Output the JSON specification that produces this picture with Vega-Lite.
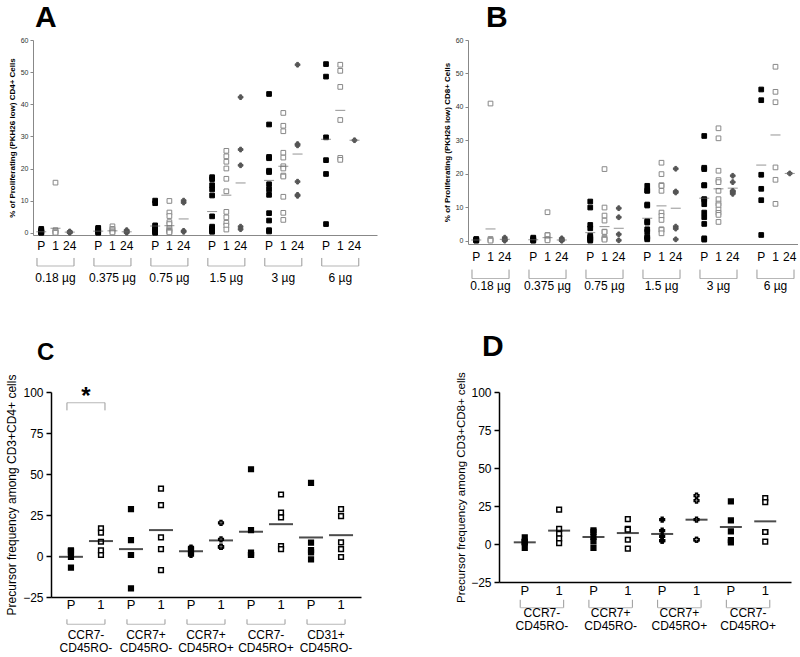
{
"$schema": "https://vega.github.io/schema/vega-lite/v6.json",
"background": "white",
"padding": {"left": 5, "top": 3, "right": 0, "bottom": 0},
"datasets": {
"A_pts": [
{"k":"0.18|P","c":"P","v":1.2},{"k":"0.18|P","c":"P","v":0.8},{"k":"0.18|P","c":"P","v":0.5},{"k":"0.18|P","c":"P","v":0.3},{"k":"0.18|P","c":"P","v":0.1},{"k":"0.18|P","c":"P","v":0},{"k":"0.18|P","c":"P","v":0.2},
{"k":"0.18|1","c":"1","v":15.6},{"k":"0.18|1","c":"1","v":0.8},{"k":"0.18|1","c":"1","v":0.4},{"k":"0.18|1","c":"1","v":0.1},{"k":"0.18|1","c":"1","v":0},
{"k":"0.18|24","c":"24","v":0.4},{"k":"0.18|24","c":"24","v":0.2},{"k":"0.18|24","c":"24","v":0.1},{"k":"0.18|24","c":"24","v":0},
{"k":"0.375|P","c":"P","v":1.5},{"k":"0.375|P","c":"P","v":1.3},{"k":"0.375|P","c":"P","v":0.8},{"k":"0.375|P","c":"P","v":0.5},{"k":"0.375|P","c":"P","v":0.2},{"k":"0.375|P","c":"P","v":0},
{"k":"0.375|1","c":"1","v":2.0},{"k":"0.375|1","c":"1","v":1.2},{"k":"0.375|1","c":"1","v":0.8},{"k":"0.375|1","c":"1","v":0.4},{"k":"0.375|1","c":"1","v":0.1},
{"k":"0.375|24","c":"24","v":0.8},{"k":"0.375|24","c":"24","v":0.5},{"k":"0.375|24","c":"24","v":0.2},{"k":"0.375|24","c":"24","v":0},
{"k":"0.75|P","c":"P","v":10.0},{"k":"0.75|P","c":"P","v":9.2},{"k":"0.75|P","c":"P","v":2.3},{"k":"0.75|P","c":"P","v":1.8},{"k":"0.75|P","c":"P","v":1.0},{"k":"0.75|P","c":"P","v":0.6},{"k":"0.75|P","c":"P","v":0.3},{"k":"0.75|P","c":"P","v":0},
{"k":"0.75|1","c":"1","v":9.9},{"k":"0.75|1","c":"1","v":6.3},{"k":"0.75|1","c":"1","v":5.2},{"k":"0.75|1","c":"1","v":3.3},{"k":"0.75|1","c":"1","v":2.7},{"k":"0.75|1","c":"1","v":1.4},{"k":"0.75|1","c":"1","v":1.0},{"k":"0.75|1","c":"1","v":0.6},{"k":"0.75|1","c":"1","v":0.3},{"k":"0.75|1","c":"1","v":0.1},
{"k":"0.75|24","c":"24","v":10.0},{"k":"0.75|24","c":"24","v":9.4},{"k":"0.75|24","c":"24","v":0.6},{"k":"0.75|24","c":"24","v":0.3},
{"k":"1.5|P","c":"P","v":17.3},{"k":"1.5|P","c":"P","v":16.7},{"k":"1.5|P","c":"P","v":14.8},{"k":"1.5|P","c":"P","v":13.5},{"k":"1.5|P","c":"P","v":11.6},{"k":"1.5|P","c":"P","v":5.1},{"k":"1.5|P","c":"P","v":1.9},{"k":"1.5|P","c":"P","v":1.4},{"k":"1.5|P","c":"P","v":1.0},{"k":"1.5|P","c":"P","v":0.6},{"k":"1.5|P","c":"P","v":0.3},
{"k":"1.5|1","c":"1","v":25.5},{"k":"1.5|1","c":"1","v":23.8},{"k":"1.5|1","c":"1","v":22.1},{"k":"1.5|1","c":"1","v":20.0},{"k":"1.5|1","c":"1","v":16.8},{"k":"1.5|1","c":"1","v":12.9},{"k":"1.5|1","c":"1","v":6.5},{"k":"1.5|1","c":"1","v":4.8},{"k":"1.5|1","c":"1","v":3.1},{"k":"1.5|1","c":"1","v":2.2},{"k":"1.5|1","c":"1","v":1.0},
{"k":"1.5|24","c":"24","v":42.2},{"k":"1.5|24","c":"24","v":25.9},{"k":"1.5|24","c":"24","v":21.0},{"k":"1.5|24","c":"24","v":1.9},{"k":"1.5|24","c":"24","v":1.1},
{"k":"3|P","c":"P","v":43.2},{"k":"3|P","c":"P","v":33.7},{"k":"3|P","c":"P","v":23.6},{"k":"3|P","c":"P","v":23.2},{"k":"3|P","c":"P","v":19.3},{"k":"3|P","c":"P","v":18.9},{"k":"3|P","c":"P","v":15.1},{"k":"3|P","c":"P","v":13.5},{"k":"3|P","c":"P","v":11.8},{"k":"3|P","c":"P","v":6.1},{"k":"3|P","c":"P","v":3.8},{"k":"3|P","c":"P","v":0.8},{"k":"3|P","c":"P","v":0.4},
{"k":"3|1","c":"1","v":37.3},{"k":"3|1","c":"1","v":33.3},{"k":"3|1","c":"1","v":31.6},{"k":"3|1","c":"1","v":24.9},{"k":"3|1","c":"1","v":23.4},{"k":"3|1","c":"1","v":20.7},{"k":"3|1","c":"1","v":20.0},{"k":"3|1","c":"1","v":17.8},{"k":"3|1","c":"1","v":17.5},{"k":"3|1","c":"1","v":11.2},{"k":"3|1","c":"1","v":6.2},{"k":"3|1","c":"1","v":4.0},
{"k":"3|24","c":"24","v":52.3},{"k":"3|24","c":"24","v":27.6},{"k":"3|24","c":"24","v":27.2},{"k":"3|24","c":"24","v":15.9},{"k":"3|24","c":"24","v":11.8},{"k":"3|24","c":"24","v":11.5},
{"k":"6|P","c":"P","v":52.5},{"k":"6|P","c":"P","v":48.6},{"k":"6|P","c":"P","v":29.7},{"k":"6|P","c":"P","v":22.6},{"k":"6|P","c":"P","v":18.3},{"k":"6|P","c":"P","v":2.7},
{"k":"6|1","c":"1","v":52.3},{"k":"6|1","c":"1","v":50.4},{"k":"6|1","c":"1","v":45.4},{"k":"6|1","c":"1","v":35.1},{"k":"6|1","c":"1","v":23.3},{"k":"6|1","c":"1","v":22.7},
{"k":"6|24","c":"24","v":28.8}
],
"A_mean": [
{"k":"0.18|P","m":0.3},{"k":"0.18|1","m":1.4},{"k":"0.18|24","m":0.2},
{"k":"0.375|P","m":0.5},{"k":"0.375|1","m":0.6},{"k":"0.375|24","m":0.3},
{"k":"0.75|P","m":2.1},{"k":"0.75|1","m":2.2},{"k":"0.75|24","m":4.3},
{"k":"1.5|P","m":6.6},{"k":"1.5|1","m":11.7},{"k":"1.5|24","m":15.5},
{"k":"3|P","m":16.3},{"k":"3|1","m":20.7},{"k":"3|24","m":24.5},
{"k":"6|P","m":29.1},{"k":"6|1","m":38.1},{"k":"6|24","m":28.8}
],
"AB_groups": [
{"k":"0.18|1","kp":"0.18|P","kz":"0.18|24","label":"0.18 µg"},
{"k":"0.375|1","kp":"0.375|P","kz":"0.375|24","label":"0.375 µg"},
{"k":"0.75|1","kp":"0.75|P","kz":"0.75|24","label":"0.75 µg"},
{"k":"1.5|1","kp":"1.5|P","kz":"1.5|24","label":"1.5 µg"},
{"k":"3|1","kp":"3|P","kz":"3|24","label":"3 µg"},
{"k":"6|1","kp":"6|P","kz":"6|24","label":"6 µg"}
],
"B_pts": [
{"k":"0.18|P","c":"P","v":0.5},{"k":"0.18|P","c":"P","v":0.3},{"k":"0.18|P","c":"P","v":0.1},{"k":"0.18|P","c":"P","v":0},{"k":"0.18|P","c":"P","v":0.2},
{"k":"0.18|1","c":"1","v":41.0},{"k":"0.18|1","c":"1","v":0.5},{"k":"0.18|1","c":"1","v":0.2},{"k":"0.18|1","c":"1","v":0},
{"k":"0.18|24","c":"24","v":0.9},{"k":"0.18|24","c":"24","v":0.4},{"k":"0.18|24","c":"24","v":0.2},{"k":"0.18|24","c":"24","v":0},
{"k":"0.375|P","c":"P","v":0.9},{"k":"0.375|P","c":"P","v":0.6},{"k":"0.375|P","c":"P","v":0.3},{"k":"0.375|P","c":"P","v":0.1},{"k":"0.375|P","c":"P","v":0},
{"k":"0.375|1","c":"1","v":8.5},{"k":"0.375|1","c":"1","v":1.7},{"k":"0.375|1","c":"1","v":1.6},{"k":"0.375|1","c":"1","v":0.5},{"k":"0.375|1","c":"1","v":0.1},
{"k":"0.375|24","c":"24","v":0.7},{"k":"0.375|24","c":"24","v":0.3},{"k":"0.375|24","c":"24","v":0.1},{"k":"0.375|24","c":"24","v":0},
{"k":"0.75|P","c":"P","v":11.7},{"k":"0.75|P","c":"P","v":9.9},{"k":"0.75|P","c":"P","v":4.7},{"k":"0.75|P","c":"P","v":3.7},{"k":"0.75|P","c":"P","v":1.5},{"k":"0.75|P","c":"P","v":1.0},{"k":"0.75|P","c":"P","v":0.6},{"k":"0.75|P","c":"P","v":0.3},{"k":"0.75|P","c":"P","v":0},
{"k":"0.75|1","c":"1","v":21.4},{"k":"0.75|1","c":"1","v":9.9},{"k":"0.75|1","c":"1","v":7.5},{"k":"0.75|1","c":"1","v":6.0},{"k":"0.75|1","c":"1","v":2.7},{"k":"0.75|1","c":"1","v":2.6},{"k":"0.75|1","c":"1","v":0.9},{"k":"0.75|1","c":"1","v":0.5},{"k":"0.75|1","c":"1","v":0.3},
{"k":"0.75|24","c":"24","v":9.7},{"k":"0.75|24","c":"24","v":7.0},{"k":"0.75|24","c":"24","v":1.9},{"k":"0.75|24","c":"24","v":0.1},
{"k":"1.5|P","c":"P","v":16.4},{"k":"1.5|P","c":"P","v":15.0},{"k":"1.5|P","c":"P","v":14.9},{"k":"1.5|P","c":"P","v":10.8},{"k":"1.5|P","c":"P","v":10.5},{"k":"1.5|P","c":"P","v":5.8},{"k":"1.5|P","c":"P","v":5.4},{"k":"1.5|P","c":"P","v":3.4},{"k":"1.5|P","c":"P","v":2.7},{"k":"1.5|P","c":"P","v":1.2},{"k":"1.5|P","c":"P","v":0.8},{"k":"1.5|P","c":"P","v":0.4},
{"k":"1.5|1","c":"1","v":23.3},{"k":"1.5|1","c":"1","v":19.9},{"k":"1.5|1","c":"1","v":16.6},{"k":"1.5|1","c":"1","v":16.4},{"k":"1.5|1","c":"1","v":14.9},{"k":"1.5|1","c":"1","v":8.4},{"k":"1.5|1","c":"1","v":7.4},{"k":"1.5|1","c":"1","v":6.2},{"k":"1.5|1","c":"1","v":3.4},{"k":"1.5|1","c":"1","v":3.2},{"k":"1.5|1","c":"1","v":2.2},
{"k":"1.5|24","c":"24","v":21.5},{"k":"1.5|24","c":"24","v":14.7},{"k":"1.5|24","c":"24","v":14.4},{"k":"1.5|24","c":"24","v":4.2},{"k":"1.5|24","c":"24","v":3.6},{"k":"1.5|24","c":"24","v":0.4},
{"k":"3|P","c":"P","v":31.3},{"k":"3|P","c":"P","v":21.8},{"k":"3|P","c":"P","v":21.4},{"k":"3|P","c":"P","v":16.6},{"k":"3|P","c":"P","v":16.5},{"k":"3|P","c":"P","v":12.4},{"k":"3|P","c":"P","v":12.3},{"k":"3|P","c":"P","v":10.9},{"k":"3|P","c":"P","v":8.4},{"k":"3|P","c":"P","v":7.0},{"k":"3|P","c":"P","v":5.0},{"k":"3|P","c":"P","v":0.7},{"k":"3|P","c":"P","v":0.3},
{"k":"3|1","c":"1","v":33.6},{"k":"3|1","c":"1","v":30.6},{"k":"3|1","c":"1","v":20.9},{"k":"3|1","c":"1","v":18.1},{"k":"3|1","c":"1","v":17.5},{"k":"3|1","c":"1","v":14.9},{"k":"3|1","c":"1","v":12.4},{"k":"3|1","c":"1","v":11.1},{"k":"3|1","c":"1","v":10.6},{"k":"3|1","c":"1","v":9.3},{"k":"3|1","c":"1","v":8.3},{"k":"3|1","c":"1","v":7.7},{"k":"3|1","c":"1","v":5.6},
{"k":"3|24","c":"24","v":19.4},{"k":"3|24","c":"24","v":17.5},{"k":"3|24","c":"24","v":14.9},{"k":"3|24","c":"24","v":14.4},{"k":"3|24","c":"24","v":14.0},{"k":"3|24","c":"24","v":14.7},
{"k":"6|P","c":"P","v":45.2},{"k":"6|P","c":"P","v":42.0},{"k":"6|P","c":"P","v":19.7},{"k":"6|P","c":"P","v":15.5},{"k":"6|P","c":"P","v":12.1},{"k":"6|P","c":"P","v":1.7},
{"k":"6|1","c":"1","v":52.0},{"k":"6|1","c":"1","v":44.5},{"k":"6|1","c":"1","v":41.4},{"k":"6|1","c":"1","v":21.9},{"k":"6|1","c":"1","v":18.2},{"k":"6|1","c":"1","v":11.0},
{"k":"6|24","c":"24","v":20.1}
],
"B_mean": [
{"k":"0.18|P","m":0.2},{"k":"0.18|1","m":3.5},{"k":"0.18|24","m":0.4},
{"k":"0.375|P","m":0.3},{"k":"0.375|1","m":0.9},{"k":"0.375|24","m":0.2},
{"k":"0.75|P","m":2.4},{"k":"0.75|1","m":4.2},{"k":"0.75|24","m":3.7},
{"k":"1.5|P","m":6.7},{"k":"1.5|1","m":10.4},{"k":"1.5|24","m":9.7},
{"k":"3|P","m":12.7},{"k":"3|1","m":15.5},{"k":"3|24","m":15.7},
{"k":"6|P","m":22.6},{"k":"6|1","m":31.6},{"k":"6|24","m":20.1}
],
"C_pts": [
{"k":"g1|P","g":"g1","c":"P","v":3.5},{"k":"g1|P","g":"g1","c":"P","v":3.0},{"k":"g1|P","g":"g1","c":"P","v":2.5},{"k":"g1|P","g":"g1","c":"P","v":-0.5},{"k":"g1|P","g":"g1","c":"P","v":-7.1},
{"k":"g1|1","g":"g1","c":"1","v":16.8},{"k":"g1|1","g":"g1","c":"1","v":14.3},{"k":"g1|1","g":"g1","c":"1","v":8.7},{"k":"g1|1","g":"g1","c":"1","v":3.4},{"k":"g1|1","g":"g1","c":"1","v":0.6},
{"k":"g2|P","g":"g2","c":"P","v":28.6},{"k":"g2|P","g":"g2","c":"P","v":9.7},{"k":"g2|P","g":"g2","c":"P","v":0.6},{"k":"g2|P","g":"g2","c":"P","v":0.6},{"k":"g2|P","g":"g2","c":"P","v":-19.7},
{"k":"g2|1","g":"g2","c":"1","v":41.1},{"k":"g2|1","g":"g2","c":"1","v":31.0},{"k":"g2|1","g":"g2","c":"1","v":11.3},{"k":"g2|1","g":"g2","c":"1","v":4.2},{"k":"g2|1","g":"g2","c":"1","v":-8.6},
{"k":"g3|P","g":"g3","c":"P","v":5.2},{"k":"g3|P","g":"g3","c":"P","v":4.5},{"k":"g3|P","g":"g3","c":"P","v":3.0},{"k":"g3|P","g":"g3","c":"P","v":2.0},{"k":"g3|P","g":"g3","c":"P","v":0.6},
{"k":"g3|1","g":"g3","c":"1","v":20.2},{"k":"g3|1","g":"g3","c":"1","v":10.1},{"k":"g3|1","g":"g3","c":"1","v":5.6},{"k":"g3|1","g":"g3","c":"1","v":5.6},{"k":"g3|1","g":"g3","c":"1","v":5.6},
{"k":"g4|P","g":"g4","c":"P","v":52.9},{"k":"g4|P","g":"g4","c":"P","v":15.8},{"k":"g4|P","g":"g4","c":"P","v":2.0},{"k":"g4|P","g":"g4","c":"P","v":0.6},{"k":"g4|P","g":"g4","c":"P","v":0.6},
{"k":"g4|1","g":"g4","c":"1","v":37.5},{"k":"g4|1","g":"g4","c":"1","v":26.5},{"k":"g4|1","g":"g4","c":"1","v":23.5},{"k":"g4|1","g":"g4","c":"1","v":6.0},{"k":"g4|1","g":"g4","c":"1","v":4.2},
{"k":"g5|P","g":"g5","c":"P","v":44.6},{"k":"g5|P","g":"g5","c":"P","v":8.1},{"k":"g5|P","g":"g5","c":"P","v":3.6},{"k":"g5|P","g":"g5","c":"P","v":2.2},{"k":"g5|P","g":"g5","c":"P","v":-2.1},
{"k":"g5|1","g":"g5","c":"1","v":28.6},{"k":"g5|1","g":"g5","c":"1","v":24.3},{"k":"g5|1","g":"g5","c":"1","v":8.3},{"k":"g5|1","g":"g5","c":"1","v":4.2},{"k":"g5|1","g":"g5","c":"1","v":-0.6}
],
"C_mean": [
{"k":"g1|P","m":-0.5},{"k":"g1|1","m":9.1},
{"k":"g2|P","m":4.2},{"k":"g2|1","m":15.8},
{"k":"g3|P","m":2.9},{"k":"g3|1","m":9.5},
{"k":"g4|P","m":14.8},{"k":"g4|1","m":19.4},
{"k":"g5|P","m":11.3},{"k":"g5|1","m":12.7}
],
"CD_groups": [
{"k":"g1|m","kp":"g1|P","kz":"g1|1","label":"CCR7- CD45RO-"},
{"k":"g2|m","kp":"g2|P","kz":"g2|1","label":"CCR7+ CD45RO-"},
{"k":"g3|m","kp":"g3|P","kz":"g3|1","label":"CCR7+ CD45RO+"},
{"k":"g4|m","kp":"g4|P","kz":"g4|1","label":"CCR7- CD45RO+"},
{"k":"g5|m","kp":"g5|P","kz":"g5|1","label":"CD31+ CD45RO-"}
],
"D_pts": [
{"k":"g1|P","g":"g1","c":"P","v":4.4},{"k":"g1|P","g":"g1","c":"P","v":1.5},{"k":"g1|P","g":"g1","c":"P","v":1.3},{"k":"g1|P","g":"g1","c":"P","v":1.0},{"k":"g1|P","g":"g1","c":"P","v":-2.6},
{"k":"g1|1","g":"g1","c":"1","v":22.6},{"k":"g1|1","g":"g1","c":"1","v":9.9},{"k":"g1|1","g":"g1","c":"1","v":6.6},{"k":"g1|1","g":"g1","c":"1","v":3.7},{"k":"g1|1","g":"g1","c":"1","v":0.6},
{"k":"g2|P","g":"g2","c":"P","v":9.0},{"k":"g2|P","g":"g2","c":"P","v":8.0},{"k":"g2|P","g":"g2","c":"P","v":4.6},{"k":"g2|P","g":"g2","c":"P","v":1.7},{"k":"g2|P","g":"g2","c":"P","v":-2.6},
{"k":"g2|1","g":"g2","c":"1","v":16.4},{"k":"g2|1","g":"g2","c":"1","v":9.9},{"k":"g2|1","g":"g2","c":"1","v":9.4},{"k":"g2|1","g":"g2","c":"1","v":2.8},{"k":"g2|1","g":"g2","c":"1","v":-3.1},
{"k":"g3|P","g":"g3","c":"P","v":16.0},{"k":"g3|P","g":"g3","c":"P","v":8.8},{"k":"g3|P","g":"g3","c":"P","v":5.0},{"k":"g3|P","g":"g3","c":"P","v":2.2},{"k":"g3|P","g":"g3","c":"P","v":2.2},
{"k":"g3|1","g":"g3","c":"1","v":31.8},{"k":"g3|1","g":"g3","c":"1","v":28.5},{"k":"g3|1","g":"g3","c":"1","v":16.0},{"k":"g3|1","g":"g3","c":"1","v":2.8},{"k":"g3|1","g":"g3","c":"1","v":2.8},
{"k":"g4|P","g":"g4","c":"P","v":28.0},{"k":"g4|P","g":"g4","c":"P","v":15.5},{"k":"g4|P","g":"g4","c":"P","v":8.3},{"k":"g4|P","g":"g4","c":"P","v":2.6},{"k":"g4|P","g":"g4","c":"P","v":1.1},
{"k":"g4|1","g":"g4","c":"1","v":30.2},{"k":"g4|1","g":"g4","c":"1","v":27.6},{"k":"g4|1","g":"g4","c":"1","v":7.9},{"k":"g4|1","g":"g4","c":"1","v":7.9},{"k":"g4|1","g":"g4","c":"1","v":1.6}
],
"D_mean": [
{"k":"g1|P","m":1.1},{"k":"g1|1","m":8.8},
{"k":"g2|P","m":4.6},{"k":"g2|1","m":7.2},
{"k":"g3|P","m":6.6},{"k":"g3|1","m":16.0},
{"k":"g4|P","m":11.2},{"k":"g4|1","m":14.9}
]
},
"vconcat": [
{"hconcat": [
{
"width": 344, "height": 195,
"title": {"text": "A", "anchor": "start", "frame": "group", "fontSize": 30, "fontWeight": "bold", "offset": 3, "dx": 2},
"layer": [
{"data": {"name": "A_pts"}, "mark": {"type": "point", "opacity": 1, "strokeWidth": 1, "size": 22},
"encoding": {
"x": {"field": "k", "type": "nominal", "scale": {"domain": ["0.18|P","0.18|1","0.18|24","0.18|s","0.375|P","0.375|1","0.375|24","0.375|s","0.75|P","0.75|1","0.75|24","0.75|s","1.5|P","1.5|1","1.5|24","1.5|s","3|P","3|1","3|24","3|s","6|P","6|1","6|24","6|s"], "paddingInner": 0, "paddingOuter": 0.08},
"axis": {"title": null, "ticks": false, "labelPadding": 5, "labelFontSize": 12, "labelColor": "#000", "domainColor": "#888", "labelAngle": 0, "labelOverlap": false, "labelExpr": "indexof(['m','s'], split(datum.label,'|')[1]) >= 0 ? '' : split(datum.label,'|')[1]"}},
"y": {"field": "v", "type": "quantitative", "scale": {"domain": [-0.7, 60], "nice": false, "zero": false},
"axis": {"title": "% of Proliferating (PKH26 low) CD4+ Cells", "titleFontSize": 8, "titleFontWeight": "bold", "titleColor": "#000", "titlePadding": 4, "values": [0,10,20,30,40,50,60], "tickCount": 10, "labelFontSize": 7, "labelColor": "#333", "labelOverlap": false, "tickSize": 3, "tickColor": "#888", "domainColor": "#888", "labelPadding": 2}},
"shape": {"field": "c", "type": "nominal", "scale": {"domain": ["P","1","24"], "range": ["square","square","cross"]}, "legend": null},
"size": {"field": "c", "type": "nominal", "scale": {"domain": ["P","1","24"], "range": [22, 22, 10]}, "legend": null},
"fill": {"field": "c", "type": "nominal", "scale": {"domain": ["P","1","24"], "range": ["#000","#fff","#555"]}, "legend": null},
"stroke": {"field": "c", "type": "nominal", "scale": {"domain": ["P","1","24"], "range": ["#000","#888","#555"]}, "legend": null}
}},
{"data": {"name": "A_mean"}, "mark": {"type": "tick", "size": 10, "thickness": 1, "color": "#666"},
"encoding": {"x": {"field": "k", "type": "nominal"}, "y": {"field": "m", "type": "quantitative"}}},
{"data": {"name": "AB_groups"}, "mark": {"type": "tick", "size": 37, "thickness": 1, "color": "#999"},
"encoding": {"x": {"field": "k", "type": "nominal"}, "y": {"datum": -10.35, "type": "quantitative"}}},
{"data": {"name": "AB_groups"}, "mark": {"type": "rule", "color": "#999"},
"encoding": {"x": {"field": "kp", "type": "nominal", "bandPosition": 0.2}, "y": {"datum": -7.85, "type": "quantitative"}, "y2": {"datum": -10.35}}},
{"data": {"name": "AB_groups"}, "mark": {"type": "rule", "color": "#999"},
"encoding": {"x": {"field": "kz", "type": "nominal", "bandPosition": 0.8}, "y": {"datum": -7.85, "type": "quantitative"}, "y2": {"datum": -10.35}}},
{"data": {"name": "AB_groups"}, "mark": {"type": "text", "fontSize": 12, "baseline": "middle"},
"encoding": {"x": {"field": "k", "type": "nominal"}, "y": {"datum": -14.2, "type": "quantitative"}, "text": {"field": "label"}}}
]
},
{
"width": 330, "height": 204,
"title": {"text": "B", "anchor": "start", "frame": "group", "fontSize": 30, "fontWeight": "bold", "offset": 3, "dx": 18},
"layer": [
{"data": {"name": "B_pts"}, "mark": {"type": "point", "opacity": 1, "strokeWidth": 1, "size": 22},
"encoding": {
"x": {"field": "k", "type": "nominal", "scale": {"domain": ["0.18|P","0.18|1","0.18|24","0.18|s","0.375|P","0.375|1","0.375|24","0.375|s","0.75|P","0.75|1","0.75|24","0.75|s","1.5|P","1.5|1","1.5|24","1.5|s","3|P","3|1","3|24","3|s","6|P","6|1","6|24"], "paddingInner": 0, "paddingOuter": 0.08},
"axis": {"title": null, "ticks": false, "labelPadding": 7, "labelFontSize": 12, "labelColor": "#000", "domainColor": "#888", "labelAngle": 0, "labelOverlap": false, "labelExpr": "indexof(['m','s'], split(datum.label,'|')[1]) >= 0 ? '' : split(datum.label,'|')[1]"}},
"y": {"field": "v", "type": "quantitative", "scale": {"domain": [-1, 60], "nice": false, "zero": false},
"axis": {"title": "% of Proliferating (PKH26 low) CD8+ Cells", "titleFontSize": 8, "titleFontWeight": "bold", "titleColor": "#000", "titlePadding": 4, "values": [0,10,20,30,40,50,60], "tickCount": 10, "labelFontSize": 7, "labelColor": "#333", "labelOverlap": false, "tickSize": 3, "tickColor": "#888", "domainColor": "#888", "labelPadding": 2}},
"shape": {"field": "c", "type": "nominal", "scale": {"domain": ["P","1","24"], "range": ["square","square","cross"]}, "legend": null},
"size": {"field": "c", "type": "nominal", "scale": {"domain": ["P","1","24"], "range": [22, 22, 10]}, "legend": null},
"fill": {"field": "c", "type": "nominal", "scale": {"domain": ["P","1","24"], "range": ["#000","#fff","#555"]}, "legend": null},
"stroke": {"field": "c", "type": "nominal", "scale": {"domain": ["P","1","24"], "range": ["#000","#888","#555"]}, "legend": null}
}},
{"data": {"name": "B_mean"}, "mark": {"type": "tick", "size": 10, "thickness": 1, "color": "#666"},
"encoding": {"x": {"field": "k", "type": "nominal"}, "y": {"field": "m", "type": "quantitative"}}},
{"data": {"name": "AB_groups"}, "mark": {"type": "tick", "size": 37, "thickness": 1, "color": "#999"},
"encoding": {"x": {"field": "k", "type": "nominal"}, "y": {"datum": -11.35, "type": "quantitative"}}},
{"data": {"name": "AB_groups"}, "mark": {"type": "rule", "color": "#999"},
"encoding": {"x": {"field": "kp", "type": "nominal", "bandPosition": 0.2}, "y": {"datum": -8.65, "type": "quantitative"}, "y2": {"datum": -11.35}}},
{"data": {"name": "AB_groups"}, "mark": {"type": "rule", "color": "#999"},
"encoding": {"x": {"field": "kz", "type": "nominal", "bandPosition": 0.8}, "y": {"datum": -8.65, "type": "quantitative"}, "y2": {"datum": -11.35}}},
{"data": {"name": "AB_groups"}, "mark": {"type": "text", "fontSize": 12, "baseline": "middle"},
"encoding": {"x": {"field": "k", "type": "nominal"}, "y": {"datum": -13.6, "type": "quantitative"}, "text": {"field": "label"}}}
]
}
], "spacing": 66},
{"hconcat": [
{
"width": 328, "height": 205,
"title": {"text": "C", "anchor": "start", "frame": "group", "fontSize": 24, "fontWeight": "bold", "offset": 9, "dx": 4},
"layer": [
{"data": {"name": "C_pts"}, "mark": {"type": "point", "opacity": 1, "strokeWidth": 1.5, "stroke": "#000"},
"encoding": {
"x": {"field": "k", "type": "nominal", "scale": {"domain": ["g1|P","g1|m","g1|1","g1|s","g2|P","g2|m","g2|1","g2|s","g3|P","g3|m","g3|1","g3|s","g4|P","g4|m","g4|1","g4|s","g5|P","g5|m","g5|1"], "range": [18, 328], "paddingInner": 0, "paddingOuter": 0.83},
"axis": {"title": null, "ticks": false, "labelPadding": 1, "labelFontSize": 13, "labelColor": "#000", "domainColor": "#000", "domainWidth": 1.5, "labelAngle": 0, "labelOverlap": false, "labelExpr": "indexof(['m','s'], split(datum.label,'|')[1]) >= 0 ? '' : split(datum.label,'|')[1]"}},
"y": {"field": "v", "type": "quantitative", "scale": {"domain": [-25, 100], "nice": false, "zero": false},
"axis": {"title": "Precursor frequency among CD3+CD4+ cells", "offset": -18, "titleFontSize": 12, "titleFontWeight": "normal", "titleColor": "#000", "titlePadding": 4, "values": [-25,0,25,50,75,100], "tickCount": 10, "labelFontSize": 12, "labelColor": "#000", "labelOverlap": false, "tickSize": 5, "tickColor": "#000", "tickWidth": 1.5, "domainColor": "#000", "domainWidth": 1.5, "labelPadding": 3}},
"shape": {"field": "g", "type": "nominal", "scale": {"domain": ["g1","g2","g3","g4","g5"], "range": ["square","triangle-up","triangle-down","circle","diamond"]}, "legend": null},
"size": {"field": "g", "type": "nominal", "scale": {"domain": ["g1","g2","g3","g4","g5"], "range": [48, 38, 38, 34, 24]}, "legend": null},
"fill": {"field": "c", "type": "nominal", "scale": {"domain": ["P","1"], "range": ["#000","#fff"]}, "legend": null}
}},
{"data": {"name": "C_mean"}, "mark": {"type": "tick", "size": 24, "thickness": 2, "color": "#000"},
"encoding": {"x": {"field": "k", "type": "nominal"}, "y": {"field": "m", "type": "quantitative"}}},
{"data": {"name": "CD_groups"}, "mark": {"type": "tick", "size": 38, "thickness": 1, "color": "#999"},
"encoding": {"x": {"field": "k", "type": "nominal"}, "y": {"datum": -41.6, "type": "quantitative"}}},
{"data": {"name": "CD_groups"}, "mark": {"type": "rule", "color": "#999"},
"encoding": {"x": {"field": "kp", "type": "nominal", "bandPosition": 0.233}, "y": {"datum": -38.6, "type": "quantitative"}, "y2": {"datum": -41.6}}},
{"data": {"name": "CD_groups"}, "mark": {"type": "rule", "color": "#999"},
"encoding": {"x": {"field": "kz", "type": "nominal", "bandPosition": 0.767}, "y": {"datum": -38.6, "type": "quantitative"}, "y2": {"datum": -41.6}}},
{"data": {"name": "CD_groups"}, "mark": {"type": "text", "fontSize": 12, "baseline": "top", "lineBreak": " ", "lineHeight": 13},
"encoding": {"x": {"field": "k", "type": "nominal"}, "y": {"datum": -44.9, "type": "quantitative"}, "text": {"field": "label"}}},
{"data": {"name": "CD_groups"}, "transform": [{"filter": "datum.k == 'g1|m'"}], "mark": {"type": "tick", "size": 38, "thickness": 1, "color": "#999"},
"encoding": {"x": {"field": "k", "type": "nominal"}, "y": {"datum": 93.5, "type": "quantitative"}}},
{"data": {"name": "CD_groups"}, "transform": [{"filter": "datum.k == 'g1|m'"}], "mark": {"type": "rule", "color": "#999"},
"encoding": {"x": {"field": "kp", "type": "nominal", "bandPosition": 0.233}, "y": {"datum": 93.5, "type": "quantitative"}, "y2": {"datum": 88.8}}},
{"data": {"name": "CD_groups"}, "transform": [{"filter": "datum.k == 'g1|m'"}], "mark": {"type": "rule", "color": "#999"},
"encoding": {"x": {"field": "kz", "type": "nominal", "bandPosition": 0.767}, "y": {"datum": 93.5, "type": "quantitative"}, "y2": {"datum": 88.8}}},
{"data": {"name": "CD_groups"}, "transform": [{"filter": "datum.k == 'g1|m'"}], "mark": {"type": "text", "text": "*", "fontSize": 24, "fontWeight": "bold", "baseline": "middle"},
"encoding": {"x": {"field": "k", "type": "nominal"}, "y": {"datum": 97, "type": "quantitative"}}}
]
},
{
"width": 292, "height": 190,
"title": {"text": "D", "anchor": "start", "frame": "group", "fontSize": 30, "fontWeight": "bold", "offset": 10, "dx": -17},
"layer": [
{"data": {"name": "D_pts"}, "mark": {"type": "point", "opacity": 1, "strokeWidth": 1.5, "stroke": "#000"},
"encoding": {
"x": {"field": "k", "type": "nominal", "scale": {"domain": ["g1|P","g1|m","g1|1","g1|s","g2|P","g2|m","g2|1","g2|s","g3|P","g3|m","g3|1","g3|s","g4|P","g4|m","g4|1"], "paddingInner": 0, "paddingOuter": 1.1},
"axis": {"title": null, "ticks": false, "labelPadding": 2, "labelFontSize": 13, "labelColor": "#000", "domainColor": "#000", "domainWidth": 1.5, "labelAngle": 0, "labelOverlap": false, "labelExpr": "indexof(['m','s'], split(datum.label,'|')[1]) >= 0 ? '' : split(datum.label,'|')[1]"}},
"y": {"field": "v", "type": "quantitative", "scale": {"domain": [-25, 100], "nice": false, "zero": false},
"axis": {"title": "Precursor frequency among CD3+CD8+ cells", "titleFontSize": 11.5, "titleFontWeight": "normal", "titleColor": "#000", "titlePadding": 4, "values": [-25,0,25,50,75,100], "tickCount": 10, "labelFontSize": 12, "labelColor": "#000", "labelOverlap": false, "tickSize": 5, "tickColor": "#000", "tickWidth": 1.5, "domainColor": "#000", "domainWidth": 1.5, "labelPadding": 3}},
"shape": {"field": "g", "type": "nominal", "scale": {"domain": ["g1","g2","g3","g4"], "range": ["square","triangle-up","triangle-down","circle"]}, "legend": null},
"size": {"field": "g", "type": "nominal", "scale": {"domain": ["g1","g2","g3","g4"], "range": [34, 28, 28, 26]}, "legend": null},
"fill": {"field": "c", "type": "nominal", "scale": {"domain": ["P","1"], "range": ["#000","#fff"]}, "legend": null}
}},
{"data": {"name": "D_mean"}, "mark": {"type": "tick", "size": 22, "thickness": 2, "color": "#000"},
"encoding": {"x": {"field": "k", "type": "nominal"}, "y": {"field": "m", "type": "quantitative"}}},
{"data": {"name": "CD_groups"}, "transform": [{"filter": "datum.k != 'g5|m'"}], "mark": {"type": "tick", "size": 43, "thickness": 1, "color": "#999"},
"encoding": {"x": {"field": "k", "type": "nominal"}, "y": {"datum": -41.9, "type": "quantitative"}}},
{"data": {"name": "CD_groups"}, "transform": [{"filter": "datum.k != 'g5|m'"}], "mark": {"type": "rule", "color": "#999"},
"encoding": {"x": {"field": "kp", "type": "nominal", "bandPosition": 0.235}, "y": {"datum": -36.7, "type": "quantitative"}, "y2": {"datum": -41.9}}},
{"data": {"name": "CD_groups"}, "transform": [{"filter": "datum.k != 'g5|m'"}], "mark": {"type": "rule", "color": "#999"},
"encoding": {"x": {"field": "kz", "type": "nominal", "bandPosition": 0.765}, "y": {"datum": -36.7, "type": "quantitative"}, "y2": {"datum": -41.9}}},
{"data": {"name": "CD_groups"}, "transform": [{"filter": "datum.k != 'g5|m'"}], "mark": {"type": "text", "fontSize": 12, "baseline": "top", "lineBreak": " ", "lineHeight": 13},
"encoding": {"x": {"field": "k", "type": "nominal"}, "y": {"datum": -41.9, "type": "quantitative"}, "text": {"field": "label"}}}
]
}
], "spacing": 94}
],
"spacing": 38,
"config": {"view": {"stroke": null}, "font": "Liberation Sans", "axis": {"grid": false}}
}
